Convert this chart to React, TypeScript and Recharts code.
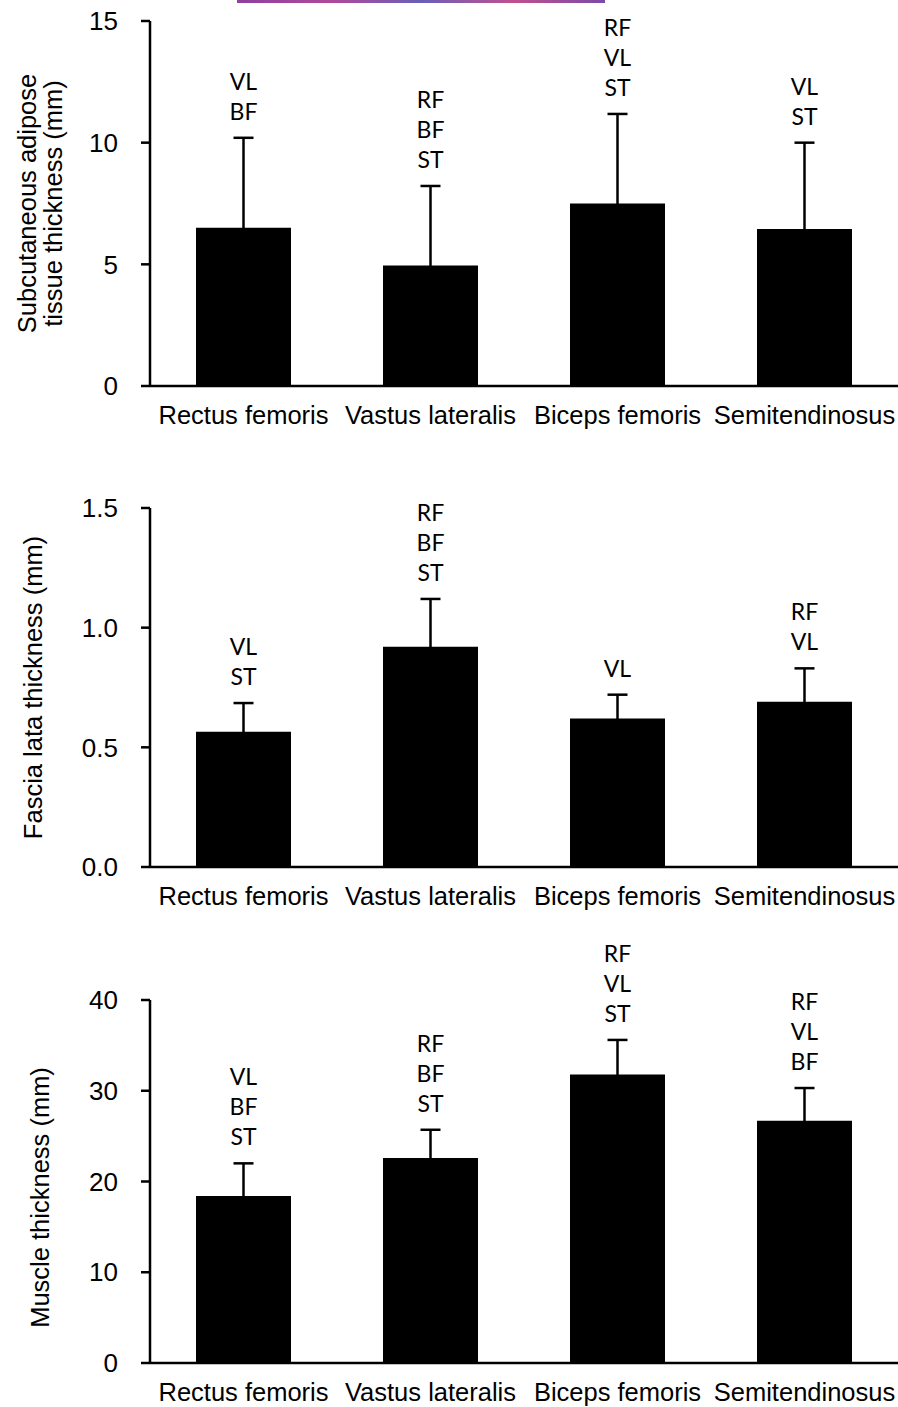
import React from 'react';
import { BarChart, Bar, XAxis, YAxis, ErrorBar, LabelList } from 'recharts';

const categories = ['Rectus femoris', 'Vastus lateralis', 'Biceps femoris', 'Semitendinosus'];

// subcutaneous adipose tissue (mm)
const satMean = [6.5, 4.95, 7.5, 6.45];
const satSd = [3.7, 3.27, 3.68, 3.55];
const satSig = ['VL|BF', 'RF|BF|ST', 'RF|VL|ST', 'VL|ST'];
const satTicks = [0, 5, 10, 15];

// fascia lata (mm)
const flMean = [0.565, 0.92, 0.62, 0.69];
const flSd = [0.12, 0.2, 0.1, 0.14];
const flSig = ['VL|ST', 'RF|BF|ST', 'VL', 'RF|VL'];
const flTicks = [0, 0.5, 1.0, 1.5];

// muscle thickness (mm)
const mtMean = [18.4, 22.6, 31.8, 26.7];
const mtSd = [3.6, 3.1, 3.8, 3.6];
const mtSig = ['VL|BF|ST', 'RF|BF|ST', 'RF|VL|ST', 'RF|VL|BF'];
const mtTicks = [0, 10, 20, 30, 40];

const AXIS_FONT = '"Liberation Sans", Arial, sans-serif';
const SIG_FONT = 'Lato, "Open Sans", sans-serif';

interface PanelProps {
  mean: number[];
  sd: number[];
  sig: string[];
  ticks: number[];
  decimals: number;
  title: string[];
  titleX: number[];
  titleShift?: number;
  plotTop: number;
  plotBottom: number;
}

function Panel({ mean, sd, sig, ticks, decimals, title, titleX, titleShift = 0, plotTop, plotBottom }: PanelProps) {
  const data = categories.map((name, i) => ({ name, mean: mean[i], sd: sd[i], sig: sig[i] }));
  const topPad = 60;
  const xAxisH = 40;
  const height = plotBottom - plotTop + topPad + xAxisH + 10;

  // significance letters stacked above the error bar cap
  const renderSig = (props: any) => {
    const { x, y, width, height: h, index, value } = props;
    const row = data[index];
    if (!row) return null;
    const pxPerUnit = h / row.mean;
    const errTop = y - row.sd * pxPerUnit;
    const lines = String(value).split('|');
    const cx = x + width / 2;
    return (
      <g>
        {lines.map((t, k) => (
          <text
            key={k}
            x={cx}
            y={errTop - 27 - (lines.length - 1 - k) * 30}
            textAnchor="middle"
            dominantBaseline="central"
            fontFamily={SIG_FONT}
            fontSize={23}
            fill="#000"
          >
            {t}
          </text>
        ))}
      </g>
    );
  };

  const renderTitle = (props: any) => {
    const vb = props.viewBox || {};
    const cy = (vb.y ?? topPad) + (vb.height ?? 0) / 2 + titleShift;
    return (
      <g>
        {title.map((t, k) => (
          <text
            key={k}
            x={titleX[k]}
            y={cy}
            transform={`rotate(-90, ${titleX[k]}, ${cy})`}
            textAnchor="middle"
            dominantBaseline="central"
            fontFamily={AXIS_FONT}
            fontSize={25.5}
            fill="#000"
          >
            {t}
          </text>
        ))}
      </g>
    );
  };

  return (
    <div style={{ position: 'absolute', left: 0, top: plotTop - topPad, width: 898, height }}>
      <BarChart
        width={898}
        height={height}
        data={data}
        margin={{ top: topPad, right: 0, left: 0, bottom: 10 }}
      >
        <XAxis
          dataKey="name"
          height={xAxisH}
          tickLine={false}
          tickSize={0}
          tickMargin={20}
          axisLine={{ stroke: '#000', strokeWidth: 2.5 }}
          tick={{ fill: '#000', fontSize: 25.5, fontFamily: AXIS_FONT }}
          interval={0}
        />
        <YAxis
          width={150}
          domain={[ticks[0], ticks[ticks.length - 1]]}
          ticks={ticks}
          tickSize={9}
          tickMargin={23}
          tickFormatter={(v: number) => v.toFixed(decimals)}
          axisLine={{ stroke: '#000', strokeWidth: 2.5 }}
          tickLine={{ stroke: '#000', strokeWidth: 2.5 }}
          tick={{ fill: '#000', fontSize: 26, fontFamily: AXIS_FONT }}
          label={{ content: renderTitle }}
          allowDataOverflow
        />
        <Bar dataKey="mean" fill="#000" barSize={95} isAnimationActive={false}>
          <ErrorBar dataKey="sd" direction="y" width={10} stroke="#000" strokeWidth={2.5} />
          <LabelList dataKey="sig" content={renderSig} />
        </Bar>
      </BarChart>
    </div>
  );
}

export default function App() {
  return (
    <div style={{ position: 'absolute', left: 0, top: 0, width: 898, height: 1407, background: '#fff', overflow: 'hidden' }}>
      <div
        style={{
          position: 'absolute',
          left: 237,
          top: 0,
          width: 368,
          height: 3,
          background: 'linear-gradient(90deg, #8e3fa0, #b0489a, #6a5fb8, #c05090, #7a4aa8)',
        }}
      />
      <Panel
        mean={satMean}
        sd={satSd}
        sig={satSig}
        ticks={satTicks}
        decimals={0}
        title={['Subcutaneous adipose', 'tissue thickness (mm)']}
        titleX={[27, 53]}
        plotTop={21}
        plotBottom={386}
      />
      <Panel
        mean={flMean}
        sd={flSd}
        sig={flSig}
        ticks={flTicks}
        decimals={1}
        title={['Fascia lata thickness (mm)']}
        titleX={[33]}
        plotTop={508}
        plotBottom={867}
      />
      <Panel
        mean={mtMean}
        sd={mtSd}
        sig={mtSig}
        ticks={mtTicks}
        decimals={0}
        title={['Muscle thickness (mm)']}
        titleX={[40]}
        titleShift={16}
        plotTop={1000}
        plotBottom={1363}
      />
    </div>
  );
}
